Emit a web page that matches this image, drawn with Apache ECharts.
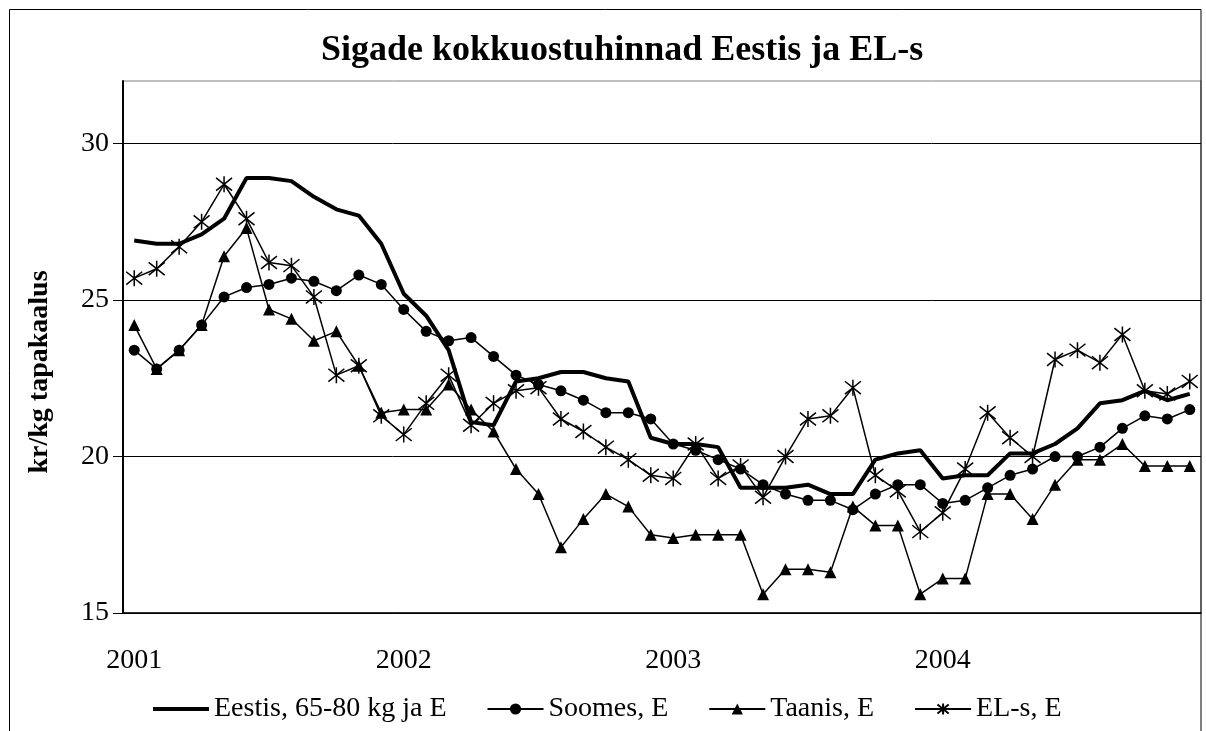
<!DOCTYPE html>
<html>
<head>
<meta charset="utf-8">
<script src="https://cdn.jsdelivr.net/npm/echarts@6/dist/echarts.min.js"></script>
<style>
  html, body { margin: 0; padding: 0; background: #fff; }
  #main { width: 1206px; height: 731px; }
</style>
</head>
<body>
<div id="main"></div>
<script>
// kuud 2001-2004, sildid ainult jaanuaril
var years = ["2001", "2002", "2003", "2004"];
var months = [];
years.forEach(function (y) {
  for (var m = 1; m <= 12; m++) months.push(y + "-" + (m < 10 ? "0" + m : m));
});

var eestis = [26.9, 26.8, 26.8, 27.1, 27.6, 28.9, 28.9, 28.8, 28.3, 27.9, 27.7, 26.8,
  25.2, 24.5, 23.4, 21.1, 21.0, 22.4, 22.5, 22.7, 22.7, 22.5, 22.4, 20.6,
  20.4, 20.4, 20.3, 19.0, 19.0, 19.0, 19.1, 18.8, 18.8, 19.9, 20.1, 20.2,
  19.3, 19.4, 19.4, 20.1, 20.1, 20.4, 20.9, 21.7, 21.8, 22.1, 21.8, 22.0];

var soomes = [23.4, 22.8, 23.4, 24.2, 25.1, 25.4, 25.5, 25.7, 25.6, 25.3, 25.8, 25.5,
  24.7, 24.0, 23.7, 23.8, 23.2, 22.6, 22.3, 22.1, 21.8, 21.4, 21.4, 21.2,
  20.4, 20.2, 19.9, 19.6, 19.1, 18.8, 18.6, 18.6, 18.3, 18.8, 19.1, 19.1,
  18.5, 18.6, 19.0, 19.4, 19.6, 20.0, 20.0, 20.3, 20.9, 21.3, 21.2, 21.5];

var taanis = [24.2, 22.8, 23.4, 24.2, 26.4, 27.3, 24.7, 24.4, 23.7, 24.0, 22.9, 21.4,
  21.5, 21.5, 22.3, 21.5, 20.8, 19.6, 18.8, 17.1, 18.0, 18.8, 18.4, 17.5,
  17.4, 17.5, 17.5, 17.5, 15.6, 16.4, 16.4, 16.3, 18.4, 17.8, 17.8, 15.6,
  16.1, 16.1, 18.8, 18.8, 18.0, 19.1, 19.9, 19.9, 20.4, 19.7, 19.7, 19.7];

var els = [25.7, 26.0, 26.7, 27.5, 28.7, 27.6, 26.2, 26.1, 25.1, 22.6, 22.9, 21.3,
  20.7, 21.7, 22.6, 21.0, 21.7, 22.1, 22.2, 21.2, 20.8, 20.3, 19.9, 19.4,
  19.3, 20.4, 19.3, 19.7, 18.7, 20.0, 21.2, 21.3, 22.2, 19.4, 18.9, 17.6,
  18.2, 19.6, 21.4, 20.6, 20.0, 23.1, 23.4, 23.0, 23.9, 22.1, 22.0, 22.4];

var yTicks = [15, 20, 25, 30];

var font = "'Liberation Serif', 'Times New Roman', serif";
var star = "path://M0,1L10,9M0,9L10,1M5,0L5,10";

var chart = echarts.init(document.getElementById("main"));

var option = {
  animation: false,
  backgroundColor: "#fff",
  title: {
    text: "Sigade kokkuostuhinnad Eestis ja EL-s",
    left: 316,
    top: 28,
    textStyle: { fontFamily: font, fontSize: 36, fontWeight: "bold", color: "#000" }
  },
  graphic: [
    {
      type: "rect",
      shape: { x: 9.5, y: 9.5, width: 1191.5, height: 800 },
      style: { fill: null, stroke: "#000", lineWidth: 1 },
      silent: true
    },
    {
      type: "text",
      x: 40,
      y: 372,
      rotation: Math.PI / 2,
      style: {
        text: "kr/kg tapakaalus",
        fontFamily: font,
        fontSize: 28,
        fontWeight: "bold",
        fill: "#000",
        align: "center",
        verticalAlign: "middle"
      }
    }
  ],
  legend: {
    left: 146,
    top: 690,
    itemGap: 40,
    itemWidth: 56,
    itemHeight: 14,
    textStyle: { fontFamily: font, fontSize: 28, color: "#000" },
    data: [
      { name: "Eestis, 65-80 kg ja E", lineStyle: { width: 4 }, itemStyle: { opacity: 0 } },
      "Soomes, E",
      "Taanis, E",
      "EL-s, E"
    ]
  },
  grid: {
    left: 123,
    right: 5,
    top: 81,
    bottom: 118,
    outerBoundsMode: "none",
    show: true,
    borderColor: "#808080",
    borderWidth: 1
  },
  xAxis: {
    type: "category",
    data: months,
    boundaryGap: true,
    axisLine: { lineStyle: { color: "#000", width: 1.5 } },
    axisTick: { interval: 2, length: 10, lineStyle: { color: "#000" } },
    axisLabel: {
      interval: 11,
      margin: 34,
      fontFamily: font,
      fontSize: 28,
      color: "#000",
      formatter: function (v) { return v.slice(0, 4); }
    }
  },
  yAxis: {
    type: "value",
    min: 15,
    max: 32,
    interval: 5,
    axisLine: { show: true, lineStyle: { color: "#000", width: 2 } },
    axisTick: { show: true, length: 10, customValues: yTicks, lineStyle: { color: "#000" } },
    axisLabel: { customValues: yTicks, margin: 14, fontFamily: font, fontSize: 28, color: "#000" },
    splitLine: { lineStyle: { color: ["#000", "#000", "#000", "#000", "#808080"], width: 1 } }
  },
  series: [
    {
      name: "Eestis, 65-80 kg ja E",
      type: "line",
      data: eestis,
      symbol: "none",
      lineStyle: { color: "#000", width: 4 },
      itemStyle: { color: "#000", opacity: 0 }
    },
    {
      name: "Soomes, E",
      type: "line",
      data: soomes,
      symbol: "circle",
      symbolSize: 11,
      showAllSymbol: true,
      lineStyle: { color: "#000", width: 1.5 },
      itemStyle: { color: "#000" }
    },
    {
      name: "Taanis, E",
      type: "line",
      data: taanis,
      symbol: "triangle",
      symbolSize: 12,
      showAllSymbol: true,
      lineStyle: { color: "#000", width: 1.5 },
      itemStyle: { color: "#000" }
    },
    {
      name: "EL-s, E",
      type: "line",
      data: els,
      symbol: star,
      symbolSize: 16,
      showAllSymbol: true,
      lineStyle: { color: "#000", width: 1.5 },
      itemStyle: { color: "#000", borderColor: "#000", borderWidth: 1.5 }
    }
  ]
};

chart.setOption(option);
</script>
</body>
</html>
